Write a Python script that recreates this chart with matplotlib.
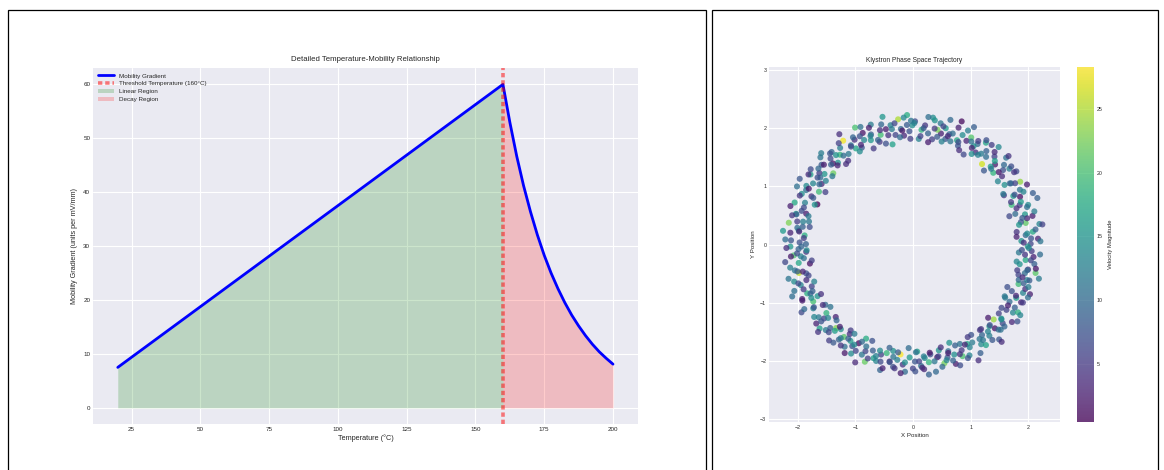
import numpy as np
import matplotlib
matplotlib.use("Agg")
import matplotlib.pyplot as plt
from matplotlib.patches import Rectangle

plt.style.use("seaborn-v0_8-darkgrid")

# Mobility vs temperature: linear rise up to the threshold, then decay
temp_linear = [20.0, 160.0]
mob_linear = [7.5, 60.0]
temp_decay = [160.0, 162.5, 165.0, 167.5, 170.0, 172.5, 175.0, 177.5, 180.0,
              182.5, 185.0, 187.5, 190.0, 192.5, 195.0, 197.5, 200.0]
mob_decay = [60.0, 53.0, 46.7, 41.2, 36.4, 32.1, 28.3, 25.0, 22.1,
             19.5, 17.2, 15.2, 13.4, 11.8, 10.4, 9.2, 8.1]
threshold_temp = 160

# Phase space samples: angle (deg), radius, velocity magnitude
phase_angle = [
    0.4, 1.9, 2.7, 4.8, 6.1, 6.9, 9.2, 10.8, 11.7, 13.4, 15.0, 16.6,
    18.9, 20.2, 21.8, 23.1, 23.9, 25.7, 27.0, 28.3, 30.2, 31.8, 32.9, 35.1,
    37.3, 38.0, 39.4, 41.6, 42.8, 44.1, 44.9, 47.0, 48.5, 49.2, 51.7, 52.9,
    54.2, 55.6, 57.1, 58.2, 60.5, 61.3, 62.6, 64.1, 65.4, 67.0, 68.3, 70.2,
    72.9, 74.2, 75.8, 77.1, 77.9, 79.7, 81.0, 82.3, 84.2, 85.8, 86.9, 89.1,
    90.4, 91.9, 92.7, 94.8, 96.1, 96.9, 99.2, 100.8, 101.7, 103.4, 105.0, 106.6,
    108.2, 109.6, 111.1, 112.2, 114.5, 115.3, 116.6, 118.1, 119.4, 121.0, 122.3, 124.2,
    127.3, 128.0, 129.4, 131.6, 132.8, 134.1, 134.9, 137.0, 138.5, 139.2, 141.7, 142.9,
    144.4, 145.9, 146.7, 148.8, 150.1, 150.9, 153.2, 154.8, 155.7, 157.4, 159.0, 160.6,
    163.3, 164.0, 165.4, 167.6, 168.8, 170.1, 170.9, 173.0, 174.5, 175.2, 177.7, 178.9,
    180.9, 182.2, 183.8, 185.1, 185.9, 187.7, 189.0, 190.3, 192.2, 193.8, 194.9, 197.1,
    198.2, 199.6, 201.1, 202.2, 204.5, 205.3, 206.6, 208.1, 209.4, 211.0, 212.3, 214.2,
    217.3, 218.0, 219.4, 221.6, 222.8, 224.1, 224.9, 227.0, 228.5, 229.2, 231.7, 232.9,
    234.4, 235.9, 236.7, 238.8, 240.1, 240.9, 243.2, 244.8, 245.7, 247.4, 249.0, 250.6,
    252.2, 253.6, 255.1, 256.2, 258.5, 259.3, 260.6, 262.1, 263.4, 265.0, 266.3, 268.2,
    270.9, 272.2, 273.8, 275.1, 275.9, 277.7, 279.0, 280.3, 282.2, 283.8, 284.9, 287.1,
    288.4, 289.9, 290.7, 292.8, 294.1, 294.9, 297.2, 298.8, 299.7, 301.4, 303.0, 304.6,
    306.2, 307.6, 309.1, 310.2, 312.5, 313.3, 314.6, 316.1, 317.4, 319.0, 320.3, 322.2,
    325.3, 326.0, 327.4, 329.6, 330.8, 332.1, 332.9, 335.0, 336.5, 337.2, 339.7, 340.9,
    342.9, 344.2, 345.8, 347.1, 347.9, 349.7, 351.0, 352.3, 354.2, 355.8, 356.9, 359.1,
    1.0, 1.5, 3.0, 4.3, 5.5, 7.0, 8.8, 10.5, 12.9, 13.6, 15.2, 16.3,
    18.1, 19.2, 20.4, 21.5, 23.3, 25.4, 26.0, 27.6, 29.1, 30.8, 32.1, 35.4,
    36.5, 38.3, 40.0, 41.0, 42.6, 43.9, 45.4, 46.0, 48.4, 50.0, 51.5, 53.9,
    54.7, 56.9, 57.6, 58.5, 60.3, 62.4, 63.8, 65.5, 66.0, 68.6, 70.0, 71.7,
    72.1, 73.2, 74.4, 75.5, 77.3, 79.4, 80.0, 81.6, 83.1, 84.8, 86.1, 89.4,
    91.0, 91.5, 93.0, 94.3, 95.5, 97.0, 98.8, 100.5, 102.9, 103.6, 105.2, 106.3,
    108.7, 110.9, 111.6, 112.5, 114.3, 116.4, 117.8, 119.5, 120.0, 122.6, 124.0, 125.7,
    126.5, 128.3, 130.0, 131.0, 132.6, 133.9, 135.4, 136.0, 138.4, 140.0, 141.5, 143.9,
    144.1, 145.2, 146.4, 147.5, 149.3, 151.4, 152.0, 153.6, 155.1, 156.8, 158.1, 161.4,
    162.7, 164.9, 165.6, 166.5, 168.3, 170.4, 171.8, 173.5, 174.0, 176.6, 178.0, 179.7,
    181.0, 181.5, 183.0, 184.3, 185.5, 187.0, 188.8, 190.5, 192.9, 193.6, 195.2, 196.3,
    198.5, 200.3, 202.0, 203.0, 204.6, 205.9, 207.4, 208.0, 210.4, 212.0, 213.5, 215.9,
    216.7, 218.9, 219.6, 220.5, 222.3, 224.4, 225.8, 227.5, 228.0, 230.6, 232.0, 233.7,
    234.1, 235.2, 236.4, 237.5, 239.3, 241.4, 242.0, 243.6, 245.1, 246.8, 248.1, 251.4,
    252.5, 254.3, 256.0, 257.0, 258.6, 259.9, 261.4, 262.0, 264.4, 266.0, 267.5, 269.9,
    271.0, 271.5, 273.0, 274.3, 275.5, 277.0, 278.8, 280.5, 282.9, 283.6, 285.2, 286.3,
    288.1, 289.2, 290.4, 291.5, 293.3, 295.4, 296.0, 297.6, 299.1, 300.8, 302.1, 305.4,
    306.5, 308.3, 310.0, 311.0, 312.6, 313.9, 315.4, 316.0, 318.4, 320.0, 321.5, 323.9,
    324.7, 326.9, 327.6, 328.5, 330.3, 332.4, 333.8, 335.5, 336.0, 338.6, 340.0, 341.7,
    343.0, 343.5, 345.0, 346.3, 347.5, 349.0, 350.8, 352.5, 354.9, 355.6, 357.2, 358.3,
]
phase_radius = [
    2.04, 1.88, 2.17, 1.96, 2.09, 1.81, 2.22, 1.99, 1.91, 2.13, 2.01, 1.85,
    2.11, 1.97, 1.84, 2.26, 2.03, 1.93, 2.08, 1.79, 2.15, 2.00, 1.89, 2.19,
    1.94, 2.12, 2.02, 1.86, 2.20, 1.98, 1.90, 2.07, 2.24, 1.83, 2.05, 1.96,
    2.16, 1.92, 2.06, 1.99, 1.78, 2.10, 2.01, 2.18, 1.87, 1.95, 2.28, 2.03,
    1.90, 2.08, 1.97, 2.14, 2.02, 1.84, 2.21, 1.93, 2.06, 1.98, 1.82, 2.12,
    2.05, 1.95, 2.23, 1.88, 2.00, 2.17, 1.91, 2.09, 1.76, 2.04, 2.14, 1.97,
    1.86, 2.19, 2.03, 1.94, 2.11, 1.99, 2.25, 1.89, 2.07, 1.93, 2.02, 2.16,
    2.09, 1.83, 2.00, 2.13, 1.92, 2.06, 1.97, 2.20, 1.85, 2.10, 1.96, 2.04,
    1.98, 2.15, 1.90, 2.03, 2.27, 1.87, 2.08, 1.95, 2.12, 1.80, 2.01, 2.18,
    2.02, 1.93, 2.10, 1.85, 2.05, 2.19, 1.94, 2.00, 2.14, 1.89, 2.22, 1.97,
    2.13, 1.99, 1.86, 2.08, 1.96, 2.24, 2.01, 1.82, 2.10, 2.04, 1.92, 2.16,
    1.95, 2.07, 2.21, 1.90, 2.02, 1.97, 2.15, 1.88, 1.99, 2.26, 2.05, 1.84,
    2.06, 1.91, 2.00, 2.17, 1.83, 2.11, 2.03, 1.96, 2.20, 1.92, 2.08, 1.99,
    1.89, 2.12, 1.98, 2.04, 2.16, 1.94, 1.81, 2.09, 2.01, 2.18, 1.95, 2.07,
    2.10, 1.97, 2.23, 1.92, 2.05, 1.86, 2.13, 2.00, 1.90, 2.07, 2.19, 1.94,
    2.01, 1.84, 2.09, 2.15, 1.96, 2.04, 1.91, 2.22, 1.98, 1.87, 2.11, 2.03,
    1.93, 2.18, 2.02, 1.88, 2.10, 2.00, 2.14, 1.95, 2.29, 1.97, 1.85, 2.08,
    2.14, 1.96, 1.87, 2.05, 2.21, 1.93, 2.02, 2.11, 1.90, 2.06, 1.99, 2.17,
    1.97, 2.09, 2.16, 1.94, 1.82, 2.12, 2.01, 1.89, 2.08, 2.20, 1.95, 2.03,
    2.07, 1.90, 2.00, 2.18, 2.04, 1.88, 2.13, 1.97, 2.10, 1.84, 2.06, 1.99,
    1.92, 2.21, 2.05, 1.80, 1.99, 2.14, 2.27, 1.87, 2.03, 1.95, 2.18, 1.74,
    2.08, 1.90, 2.30, 2.01, 1.85, 2.12, 1.96, 2.23, 1.79, 2.06, 1.98, 2.15,
    1.83, 2.17, 1.94, 2.09, 2.25, 1.88, 2.02, 1.77, 2.13, 1.97, 2.19, 1.91,
    2.20, 1.86, 2.11, 1.95, 2.04, 2.28, 1.81, 2.07, 1.93, 2.16, 1.89, 2.00,
    1.96, 2.24, 1.84, 2.10, 1.90, 2.03, 2.17, 1.78, 2.21, 2.01, 1.87, 2.09,
    2.13, 1.82, 2.06, 2.19, 1.97, 1.86, 2.11, 2.02, 1.93, 2.26, 1.80, 2.05,
    1.90, 2.15, 2.01, 1.79, 2.22, 2.08, 1.94, 2.12, 1.85, 2.00, 2.29, 1.92,
    2.17, 1.95, 1.81, 2.04, 2.13, 1.89, 2.24, 1.98, 2.07, 1.83, 2.10, 2.20,
    1.87, 2.02, 2.18, 1.93, 1.77, 2.11, 2.05, 2.25, 1.91, 2.14, 1.84, 2.00,
    2.23, 1.88, 2.09, 2.16, 1.95, 1.82, 2.03, 1.99, 2.27, 1.90, 2.12, 1.86,
    1.94, 2.20, 1.85, 2.02, 2.13, 1.91, 1.78, 2.17, 2.06, 1.97, 2.24, 1.89,
    2.10, 1.83, 2.05, 2.28, 1.92, 2.14, 1.99, 1.81, 2.19, 2.03, 1.88, 2.12,
    1.79, 2.16, 2.07, 1.94, 2.23, 1.86, 2.10, 2.01, 1.90, 2.18, 2.04, 1.83,
    2.14, 1.97, 1.84, 2.21, 2.00, 2.08, 1.89, 2.26, 1.93, 1.80, 2.11, 2.02,
    1.91, 2.09, 2.19, 1.82, 2.06, 1.96, 2.15, 1.87, 2.22, 2.03, 1.78, 2.13,
    2.18, 1.85, 2.01, 2.12, 1.93, 2.25, 1.88, 2.04, 1.97, 2.16, 1.83, 2.07,
    1.96, 2.11, 1.80, 2.23, 2.05, 1.89, 2.17, 1.94, 2.02, 1.85, 2.20, 1.99,
    2.04, 1.87, 2.14, 1.98, 2.27, 1.92, 2.08, 1.81, 2.12, 2.00, 1.90, 2.24,
    1.88, 2.22, 1.95, 2.07, 1.84, 2.15, 1.99, 2.19, 1.79, 2.09, 2.13, 1.93,
    2.11, 1.98, 2.26, 1.86, 2.03, 2.17, 1.82, 2.06, 1.95, 2.21, 1.89, 2.01,
]
velocity = [
    6.2, 14.8, 3.1, 9.7, 17.5, 4.4, 12.9, 21.3, 7.8, 2.6, 15.4, 10.1,
    13.6, 5.3, 19.2, 8.4, 1.7, 16.1, 11.2, 4.9, 23.8, 9.3, 14.2, 6.7,
    3.8, 12.4, 7.1, 18.6, 10.8, 2.2, 15.9, 5.6, 13.3, 26.4, 8.9, 11.7,
    16.8, 4.1, 9.9, 14.5, 6.4, 20.7, 3.3, 12.1, 7.5, 17.2, 1.1, 10.4,
    8.1, 15.6, 2.9, 11.4, 22.5, 5.8, 13.9, 9.1, 4.6, 18.3, 12.7, 6.9,
    14.1, 7.3, 17.8, 3.6, 10.2, 24.9, 6.1, 12.6, 16.4, 2.4, 9.5, 19.7,
    5.1, 11.9, 8.6, 15.2, 1.9, 13.4, 20.1, 7.7, 3.9, 16.7, 10.6, 27.8,
    12.2, 4.3, 18.9, 9.4, 14.7, 6.5, 2.1, 11.1, 21.9, 8.2, 15.1, 5.4,
    9.8, 16.3, 3.4, 13.1, 7.9, 19.5, 10.9, 4.8, 14.4, 0.4, 12.3, 17.4,
    6.8, 2.7, 15.8, 11.6, 5.2, 22.8, 8.7, 13.7, 3.2, 18.1, 10.3, 7.2,
    15.3, 9.2, 4.5, 20.4, 12.8, 6.3, 16.9, 1.5, 11.3, 25.7, 7.4, 14.0,
    3.7, 13.2, 10.7, 5.9, 17.9, 8.8, 2.3, 14.9, 19.9, 6.6, 12.5, 9.6,
    11.8, 18.4, 6.0, 16.2, 3.0, 12.0, 8.3, 23.1, 5.5, 14.6, 9.0, 20.9,
    4.2, 10.5, 15.7, 7.6, 13.8, 1.3, 17.6, 11.5, 6.2, 21.6, 8.5, 16.0,
    13.0, 5.7, 9.1, 19.0, 2.8, 14.3, 7.0, 12.4, 28.3, 4.7, 10.0, 15.5,
    7.9, 16.6, 11.0, 3.5, 13.5, 18.7, 6.9, 9.7, 2.0, 15.0, 22.2, 8.0,
    10.4, 2.5, 14.1, 8.6, 20.2, 5.0, 12.9, 17.0, 4.0, 11.9, 7.3, 13.6,
    16.5, 9.3, 4.4, 12.2, 7.8, 15.8, 1.8, 10.8, 24.1, 6.4, 14.8, 3.6,
    5.8, 13.1, 18.2, 9.9, 11.4, 3.2, 16.3, 7.1, 12.7, 2.9, 19.4, 8.4,
    12.6, 6.1, 10.1, 21.1, 4.6, 14.5, 8.9, 17.3, 3.0, 11.6, 5.3, 15.2,
    4.3, 11.2, 7.6, 2.8, 13.5, 9.0, 5.7, 14.9, 3.4, 8.2, 12.1, 6.5,
    10.6, 3.9, 8.8, 15.7, 5.0, 12.9, 7.3, 2.5, 11.8, 6.1, 9.4, 4.7,
    13.1, 6.9, 2.2, 9.6, 4.5, 11.5, 16.2, 7.9, 3.6, 10.2, 5.4, 12.6,
    7.0, 14.2, 5.2, 3.1, 10.9, 8.5, 4.0, 13.8, 6.7, 2.9, 11.0, 9.2,
    3.5, 9.8, 12.4, 6.0, 8.1, 4.9, 14.6, 2.6, 10.4, 7.7, 5.9, 13.0,
    11.4, 5.5, 8.3, 13.3, 2.1, 9.9, 6.3, 11.9, 4.4, 15.1, 7.2, 3.8,
    8.9, 2.7, 12.8, 5.1, 10.7, 7.4, 3.3, 9.3, 13.9, 6.2, 4.1, 11.6,
    5.8, 10.0, 4.2, 14.4, 7.5, 3.0, 12.0, 8.6, 2.4, 11.3, 9.7, 6.6,
    12.5, 7.1, 3.7, 9.5, 5.6, 13.6, 2.0, 10.5, 8.0, 4.6, 14.7, 6.4,
    2.9, 11.7, 8.7, 4.8, 12.2, 6.8, 10.1, 3.2, 15.4, 5.3, 7.8, 9.1,
    9.4, 4.0, 13.7, 7.0, 2.3, 10.8, 5.6, 12.3, 8.4, 3.4, 11.1, 6.0,
    6.7, 12.7, 5.0, 10.3, 8.8, 2.6, 14.0, 4.3, 9.6, 7.6, 3.9, 13.2,
    10.9, 3.1, 7.7, 12.9, 4.5, 9.2, 6.5, 15.8, 2.7, 8.1, 11.5, 5.2,
    4.6, 8.5, 11.8, 2.2, 13.4, 6.1, 9.9, 3.6, 10.6, 7.3, 5.5, 12.4,
    13.6, 6.6, 3.0, 9.0, 7.9, 11.2, 4.8, 8.3, 2.8, 14.3, 10.0, 5.7,
    7.1, 10.5, 5.9, 3.5, 12.1, 8.9, 2.1, 11.4, 6.2, 9.7, 4.1, 13.1,
    2.5, 9.1, 14.5, 6.8, 4.4, 10.7, 7.5, 3.3, 12.6, 5.1, 8.6, 11.0,
    11.3, 4.9, 8.0, 12.8, 3.8, 6.9, 10.2, 2.4, 9.3, 13.5, 5.8, 7.4,
    6.3, 13.0, 2.9, 8.7, 11.6, 5.3, 3.2, 10.4, 7.2, 4.2, 12.2, 9.5,
    8.2, 3.7, 11.7, 5.4, 9.8, 2.0, 13.3, 6.4, 4.7, 10.1, 7.0, 12.7,
]

fig = plt.figure(figsize=(11.64, 4.70), dpi=100)
fig.patch.set_facecolor("white")

# panel frames
for x0, x1 in [(8, 706), (712, 1158)]:
    fig.patches.append(Rectangle((x0 / 1164, -0.05), (x1 - x0) / 1164, 1.05 - 10 / 470,
                                 transform=fig.transFigure, fill=False,
                                 edgecolor="black", linewidth=0.9))

# ---- left: temperature / mobility ----
ax1 = fig.add_axes([0.0799, 0.0979, 0.468, 0.757])
temps = temp_linear[:-1] + temp_decay
mobility = mob_linear[:-1] + mob_decay
ax1.plot(temps, mobility, color="blue", lw=2.0, label="Mobility Gradient")
ax1.axvline(threshold_temp, color="red", ls="--", lw=2.6, alpha=0.5, dashes=(1.2, 0.8),
            label=f"Threshold Temperature ({threshold_temp}°C)")
ax1.fill_between(temp_linear, 0, mob_linear, color="green", alpha=0.2, lw=0,
                 label="Linear Region")
ax1.fill_between(temp_decay, 0, mob_decay, color="red", alpha=0.2, lw=0,
                 label="Decay Region")
ax1.set_xticks([25, 50, 75, 100, 125, 150, 175, 200])
ax1.set_yticks([0, 10, 20, 30, 40, 50, 60])
ax1.tick_params(labelsize=4.5, pad=2)
ax1.set_title("Detailed Temperature-Mobility Relationship", fontsize=5.6, pad=5)
ax1.set_xlabel("Temperature (°C)", fontsize=5.2, labelpad=2)
ax1.set_ylabel("Mobility Gradient (units per mV/mm)", fontsize=5.2, labelpad=4)
ax1.legend(loc="upper left", fontsize=4.5, frameon=False, handlelength=2.6,
           borderaxespad=0.4, labelspacing=0.4)

# ---- right: phase space ring ----
ax2 = fig.add_axes([0.6607, 0.102, 0.25, 0.755])
ang = np.radians(phase_angle)
px = np.array(phase_radius) * np.cos(ang)
py = np.array(phase_radius) * np.sin(ang)
sc = ax2.scatter(px, py, c=velocity, cmap="viridis", s=19, alpha=0.75, lw=0)
ax2.set_xlim(-2.5, 2.55)
ax2.set_ylim(-3.05, 3.05)
ax2.set_xticks([-2, -1, 0, 1, 2])
ax2.set_yticks([-3, -2, -1, 0, 1, 2, 3])
ax2.tick_params(labelsize=3.8, pad=2)
ax2.set_title("Klystron Phase Space Trajectory", fontsize=4.8, pad=4)
ax2.set_xlabel("X Position", fontsize=4.4, labelpad=2)
ax2.set_ylabel("Y Position", fontsize=4.4, labelpad=3)

cax = fig.add_axes([0.925, 0.102, 0.0146, 0.755])
cbar = fig.colorbar(sc, cax=cax)
cbar.outline.set_visible(False)
cbar.set_ticks([5, 10, 15, 20, 25])
cbar.ax.tick_params(labelsize=3.8, length=0, pad=2)
cbar.set_label("Velocity Magnitude", fontsize=4.2, labelpad=4)

fig.savefig("out.png", dpi=100)
